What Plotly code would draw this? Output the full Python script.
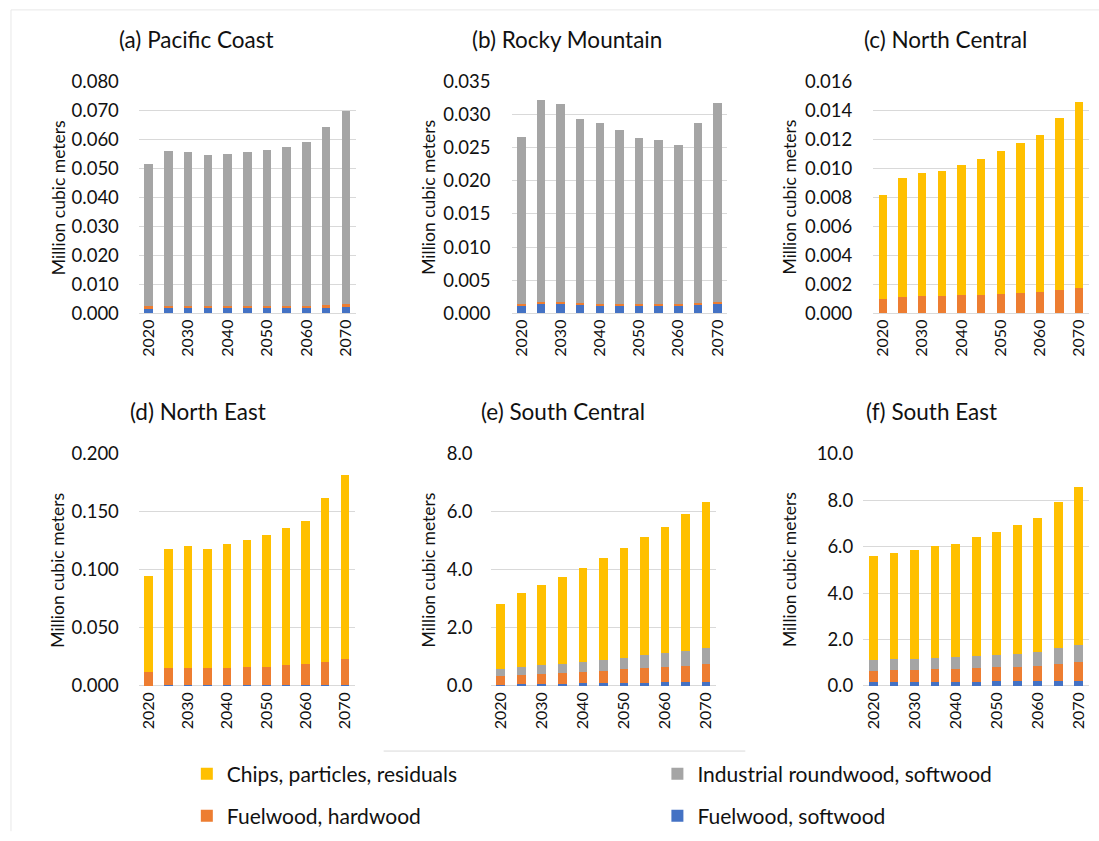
import plotly.graph_objects as go

W, H = 1099, 841

years = [2020, 2025, 2030, 2035, 2040, 2045, 2050, 2055, 2060, 2065, 2070]
tick_years = [2020, 2030, 2040, 2050, 2060, 2070]

series_names = ["Fuelwood, softwood", "Fuelwood, hardwood",
                "Industrial roundwood, softwood", "Chips, particles, residuals"]
series_colors = ["#4472C4", "#ED7D31", "#A5A5A5", "#FFC000"]

# (a) Pacific Coast
pacific_fuel_soft = [0.0016, 0.0017, 0.0017, 0.0017, 0.0017, 0.0017, 0.0017, 0.0017, 0.0018, 0.0019, 0.0022]
pacific_fuel_hard = [0.0008, 0.0008, 0.0008, 0.0008, 0.0008, 0.0008, 0.0008, 0.0008, 0.0008, 0.0009, 0.0009]
pacific_ind_soft = [0.0492, 0.0533, 0.0531, 0.0519, 0.0523, 0.0530, 0.0538, 0.0548, 0.0564, 0.0614, 0.0668]
pacific_chips = [0, 0, 0, 0, 0, 0, 0, 0, 0, 0, 0]

# (b) Rocky Mountain
rocky_fuel_soft = [0.00115, 0.00145, 0.00145, 0.0013, 0.00125, 0.0012, 0.0012, 0.00115, 0.00115, 0.0013, 0.00145]
rocky_fuel_hard = [0.00022, 0.00022, 0.00022, 0.00022, 0.00022, 0.00022, 0.00022, 0.00022, 0.00022, 0.00022, 0.00022]
rocky_ind_soft = [0.02523, 0.03053, 0.02993, 0.02778, 0.02723, 0.02618, 0.02508, 0.02473, 0.02403, 0.02718, 0.03003]
rocky_chips = [0, 0, 0, 0, 0, 0, 0, 0, 0, 0, 0]

# (c) North Central
ncentral_fuel_soft = [0, 0, 0, 0, 0, 0, 0, 0, 0, 0, 0]
ncentral_fuel_hard = [0.00099, 0.00115, 0.0012, 0.0012, 0.00124, 0.0013, 0.00135, 0.0014, 0.0015, 0.0016, 0.00174]
ncentral_ind_soft = [0, 0, 0, 0, 0, 0, 0, 0, 0, 0, 0]
ncentral_chips = [0.00715, 0.0082, 0.0085, 0.0086, 0.00896, 0.00936, 0.00981, 0.01034, 0.01076, 0.01183, 0.01282]

# (d) North East
neast_fuel_soft = [0.0003, 0.0004, 0.0004, 0.0004, 0.0004, 0.0004, 0.0004, 0.0004, 0.0005, 0.0005, 0.0006]
neast_fuel_hard = [0.0118, 0.0149, 0.0155, 0.0149, 0.0155, 0.0160, 0.0163, 0.0175, 0.0182, 0.0205, 0.0227]
neast_ind_soft = [0, 0, 0, 0, 0, 0, 0, 0, 0, 0, 0]
neast_chips = [0.0827, 0.1023, 0.1048, 0.1029, 0.1063, 0.1092, 0.1133, 0.1178, 0.1237, 0.1410, 0.1580]

# (e) South Central
scentral_fuel_soft = [0.05, 0.06, 0.07, 0.07, 0.09, 0.09, 0.10, 0.10, 0.12, 0.12, 0.13]
scentral_fuel_hard = [0.28, 0.32, 0.33, 0.38, 0.38, 0.43, 0.49, 0.51, 0.54, 0.58, 0.62]
scentral_ind_soft = [0.25, 0.28, 0.31, 0.32, 0.36, 0.39, 0.39, 0.44, 0.46, 0.51, 0.55]
scentral_chips = [2.24, 2.55, 2.77, 2.99, 3.23, 3.49, 3.77, 4.07, 4.34, 4.71, 5.05]

# (f) South East
seast_fuel_soft = [0.16, 0.16, 0.16, 0.16, 0.16, 0.17, 0.20, 0.20, 0.20, 0.23, 0.23]
seast_fuel_hard = [0.50, 0.53, 0.53, 0.57, 0.57, 0.60, 0.60, 0.63, 0.68, 0.72, 0.79]
seast_ind_soft = [0.47, 0.47, 0.49, 0.49, 0.52, 0.52, 0.55, 0.56, 0.60, 0.67, 0.73]
seast_chips = [4.45, 4.58, 4.67, 4.82, 4.88, 5.11, 5.29, 5.54, 5.77, 6.29, 6.82]

region_titles = ["(a) Pacific Coast", "(b) Rocky Mountain", "(c) North Central",
                 "(d) North East", "(e) South Central", "(f) South East"]
region_data = [
    [pacific_fuel_soft, pacific_fuel_hard, pacific_ind_soft, pacific_chips],
    [rocky_fuel_soft, rocky_fuel_hard, rocky_ind_soft, rocky_chips],
    [ncentral_fuel_soft, ncentral_fuel_hard, ncentral_ind_soft, ncentral_chips],
    [neast_fuel_soft, neast_fuel_hard, neast_ind_soft, neast_chips],
    [scentral_fuel_soft, scentral_fuel_hard, scentral_ind_soft, scentral_chips],
    [seast_fuel_soft, seast_fuel_hard, seast_ind_soft, seast_chips],
]
y_max = [0.080, 0.035, 0.016, 0.200, 8.0, 10.0]
y_dtick = [0.010, 0.005, 0.002, 0.050, 2.0, 2.0]
y_format = [".3f", ".3f", ".3f", ".3f", ".1f", ".1f"]
y_title = "Million cubic meters"

# layout geometry, in pixels of the target picture
x_px = [(138, 355), (511, 727), (873, 1089), (138, 354), (490, 716), (863, 1089)]
y_px = [(81, 313)] * 3 + [(453, 685)] * 3
title_pos = [(196, 40), (567, 40), (945, 40), (197, 411), (563, 411), (931, 411)]
ytitle_x = [57, 428, 789, 57, 428, 789]
tick_standoff = [19, 20, 20, 19, 17, 9]

# legend: series index -> (symbol centre x, centre y) in pixels
legend_slots = {3: (206, 773), 2: (677, 773), 1: (206, 815), 0: (677, 815)}
legend_keys = {3: "legend", 2: "legend2", 1: "legend3", 0: "legend4"}


def fy(py):
    """target-picture pixel row -> paper fraction (the page is shown slightly squeezed)"""
    return 1 - ((py - 11.1) / 0.9735) / H


FONT = "Lato"
TXT = "#111111"
GRID = "#D9D9D9"

fig = go.Figure()
layout = dict(
    width=W, height=H,
    margin=dict(l=0, r=0, t=0, b=0),
    paper_bgcolor="white", plot_bgcolor="white",
    barmode="stack",
    font=dict(family=FONT, color=TXT, size=16),
    annotations=[], shapes=[],
)

for i in range(6):
    xa = "x" if i == 0 else f"x{i+1}"
    ya = "y" if i == 0 else f"y{i+1}"
    for s in range(4):
        fig.add_trace(go.Bar(
            x=years, y=region_data[i][s], xaxis=xa, yaxis=ya,
            name=series_names[s], marker=dict(color=series_colors[s], line=dict(width=0)),
            width=2.15, legendgroup=series_names[s], showlegend=(i == 0),
            legend=legend_keys[s],
        ))
    x0, x1 = x_px[i]
    yt, yb = y_px[i]
    key = "" if i == 0 else str(i + 1)
    layout["xaxis" + key] = dict(
        domain=[x0 / W, x1 / W], anchor=ya, range=[2017.5, 2072.5],
        tickmode="array", tickvals=tick_years, ticktext=[str(t) for t in tick_years],
        tickangle=-90, showgrid=False, zeroline=False, showline=False,
        ticks="", tickfont=dict(family=FONT, size=16, color=TXT), ticklabelstandoff=2,
    )
    layout["yaxis" + key] = dict(
        domain=[fy(yb), fy(yt)], anchor=xa, range=[0, y_max[i] * 1.0008],
        tickmode="linear", tick0=0, dtick=y_dtick[i], tickformat=y_format[i],
        showgrid=True, gridcolor=GRID, gridwidth=1,
        zeroline=True, zerolinecolor=GRID, zerolinewidth=1, showline=False,
        ticks="", tickfont=dict(family=FONT, size=18.5, color=TXT),
        ticklabelstandoff=tick_standoff[i],
    )
    tx, ty = title_pos[i]
    layout["annotations"].append(dict(
        text=region_titles[i], x=tx / W, y=fy(ty), xref="paper", yref="paper",
        xanchor="center", yanchor="middle", showarrow=False,
        font=dict(family=FONT, size=22.5, color=TXT),
    ))
    layout["annotations"].append(dict(
        text=y_title, x=ytitle_x[i] / W, y=fy((yt + yb) / 2), xref="paper", yref="paper",
        xanchor="center", yanchor="middle", showarrow=False, textangle=-90,
        font=dict(family=FONT, size=17.5, color=TXT),
    ))

for s, lk in legend_keys.items():
    cx, cy = legend_slots[s]
    layout[lk] = dict(
        orientation="h", x=(cx - 20) / W, y=fy(cy), xanchor="left", yanchor="middle",
        font=dict(family=FONT, size=21, color=TXT), bgcolor="rgba(0,0,0,0)", borderwidth=0,
    )

# frame lines of the figure image
layout["shapes"] = [
    dict(type="line", xref="paper", yref="paper", x0=10 / W, x1=1.0, y0=fy(10), y1=fy(10),
         line=dict(color="#E8E8E8", width=1)),
    dict(type="line", xref="paper", yref="paper", x0=10 / W, x1=10 / W, y0=fy(10), y1=fy(830),
         line=dict(color="#E8E8E8", width=1)),
    dict(type="line", xref="paper", yref="paper", x0=383 / W, x1=745 / W, y0=fy(750), y1=fy(750),
         line=dict(color="#D9D9D9", width=1)),
]

fig.update_layout(**layout)

page_fix = (
    "document.documentElement.style.margin='0';"
    "document.body.style.margin='0';"
    "document.body.style.overflow='hidden';"
    "var g=document.getElementsByClassName('plotly-graph-div')[0];"
    "g.style.position='fixed';g.style.top='0px';g.style.left='0px';"
)
fig.write_html("out.html", config={"displayModeBar": False}, post_script=page_fix)
